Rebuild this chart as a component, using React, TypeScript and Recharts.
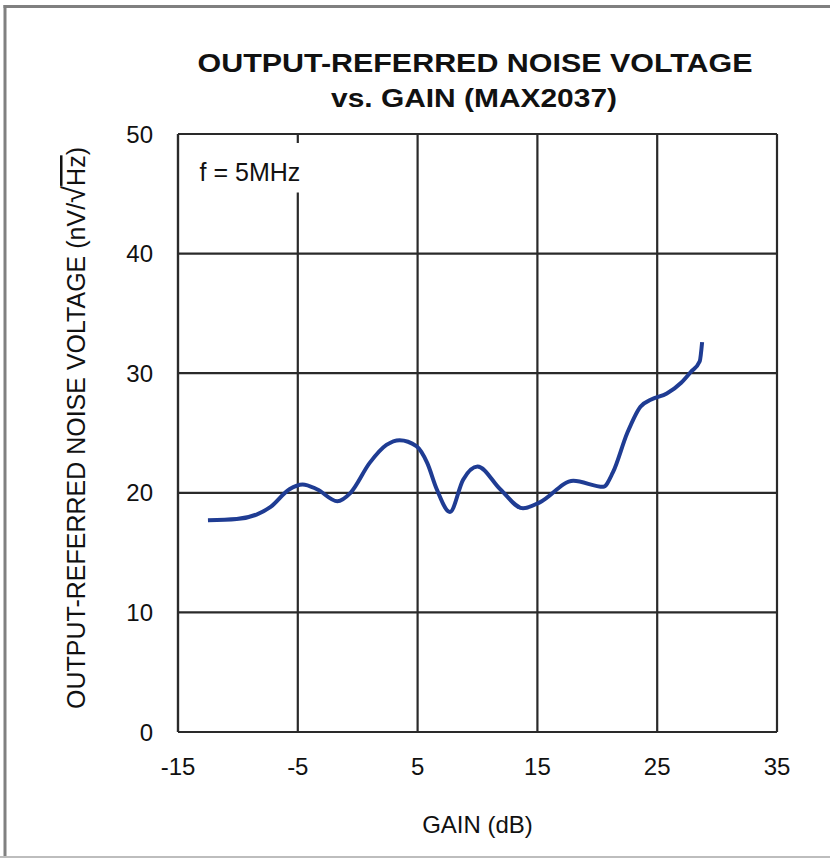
import { LineChart, Line, XAxis, YAxis, CartesianGrid, ReferenceArea } from 'recharts';

// gain (dB) vs output-referred noise (nV/rtHz)
const gain = [
  -12.5, -10.1, -8.4, -7.3, -5.7, -4.6, -3.4, -1.7, -0.6, 1.0, 2.4, 3.5, 4.9, 5.8, 6.6, 7.7,
  8.8, 10.0, 11.9, 13.8, 15.2, 18.0, 20.5, 21.3, 22.5, 23.6, 24.5, 25.8, 27.0, 27.8, 28.55, 28.75,
];
const noise = [
  17.7, 17.8, 18.2, 18.8, 20.3, 20.7, 20.3, 19.3, 20.0, 22.5, 24.0, 24.4, 23.9, 22.5, 20.3, 18.4,
  21.1, 22.2, 20.3, 18.7, 19.2, 21.0, 20.5, 21.7, 25.0, 27.2, 27.8, 28.3, 29.2, 30.1, 31.0, 32.6,
];

const xTicks = [-15, -5, 5, 15, 25, 35];
const yTicks = [0, 10, 20, 30, 40, 50];

const titleLines = ['OUTPUT-REFERRED NOISE VOLTAGE', 'vs. GAIN (MAX2037)'];
const xLabel = 'GAIN (dB)';
const yLabelMain = 'OUTPUT-REFERRED NOISE VOLTAGE (nV/';
const yLabelRoot = '√';
const yLabelHz = 'Hz';
const note = 'f = 5MHz';

const data = gain.map((g, i) => ({ gain: g, noise: noise[i] }));

const FONT = "'Liberation Sans', Arial, sans-serif";

function YLabel() {
  return (
    <text
      x={85}
      y={428}
      transform="rotate(-90, 85, 428)"
      textAnchor="middle"
      fontSize={25}
      fontFamily={FONT}
      fill="#111"
    >
      {yLabelMain}
      <tspan fontSize={31}>{yLabelRoot}</tspan>
      <tspan style={{ textDecoration: 'overline' }}>{yLabelHz}</tspan>)
    </text>
  );
}

export default function App() {
  return (
    <div style={{ position: 'absolute', left: 0, top: 0, width: 830, height: 858, background: '#fff' }}>
      <svg width={830} height={858} style={{ position: 'absolute', left: 0, top: 0 }}>
        <line x1={3.5} y1={6.5} x2={830} y2={6.5} stroke="#808080" strokeWidth={3} />
        <line x1={5} y1={5} x2={5} y2={858} stroke="#808080" strokeWidth={3} />
        <line x1={0} y1={857} x2={830} y2={857} stroke="#bdbdbd" strokeWidth={2} />
        <text
          x={475}
          y={72}
          textAnchor="middle"
          fontSize={26}
          fontWeight="bold"
          fontFamily={FONT}
          fill="#111"
          textLength={555}
          lengthAdjust="spacingAndGlyphs"
        >
          {titleLines[0]}
        </text>
        <text
          x={474}
          y={107}
          textAnchor="middle"
          fontSize={26}
          fontWeight="bold"
          fontFamily={FONT}
          fill="#111"
          textLength={286}
          lengthAdjust="spacingAndGlyphs"
        >
          {titleLines[1]}
        </text>
      </svg>
      <div style={{ position: 'absolute', left: 0, top: 0 }}>
        <LineChart
          width={830}
          height={858}
          data={data}
          margin={{ top: 134, right: 53, bottom: 96, left: 118 }}
        >
          <CartesianGrid stroke="#2a2a2a" strokeWidth={2.2} />
          <XAxis
            dataKey="gain"
            type="number"
            domain={[-15, 35]}
            ticks={xTicks}
            height={30}
            tickSize={0}
            tickMargin={26}
            axisLine={{ stroke: '#2a2a2a', strokeWidth: 2.2 }}
            tick={{ fontSize: 24, fill: '#111', fontFamily: FONT }}
            label={{ value: xLabel, position: 'bottom', offset: 54, fontSize: 24, fill: '#111', fontFamily: FONT }}
          />
          <YAxis
            type="number"
            domain={[0, 50]}
            ticks={yTicks}
            width={60}
            tickSize={0}
            tickMargin={25}
            axisLine={{ stroke: '#2a2a2a', strokeWidth: 2.2 }}
            tick={{ fontSize: 24, fill: '#111', fontFamily: FONT }}
            label={<YLabel />}
          />
          <ReferenceArea
            x1={-13.2}
            x2={-4.6}
            y1={45.1}
            y2={49.25}
            fill="#fff"
            fillOpacity={1}
            stroke="none"
            label={{ value: note, position: 'insideLeft', offset: 0, dy: 4, fontSize: 25, fill: '#111', fontFamily: FONT }}
          />
          <Line
            type="monotone"
            dataKey="noise"
            stroke="#1f3c93"
            strokeWidth={4}
            dot={false}
            isAnimationActive={false}
          />
        </LineChart>
      </div>
    </div>
  );
}
